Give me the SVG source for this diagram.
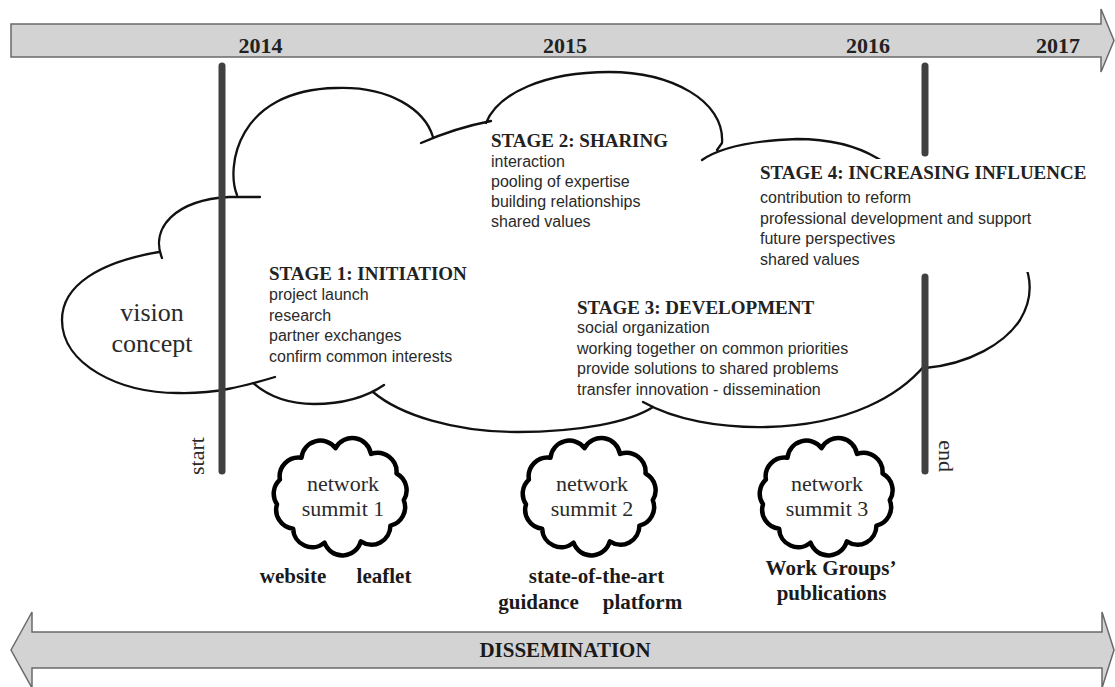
<svg xmlns="http://www.w3.org/2000/svg" width="1115" height="687" viewBox="0 0 1115 687">
<defs>
<style>
.arrow{fill:#d3d3d3;stroke:#6a6a6a;stroke-width:1.5;stroke-linejoin:miter}
.year{font-family:"Liberation Serif",serif;font-weight:bold;font-size:22px;fill:#222;text-anchor:middle}
.big{fill:none;stroke:#111;stroke-width:2.3;stroke-linecap:round;stroke-linejoin:round}
.bar{stroke:#404040;stroke-width:7;stroke-linecap:round}
.title{font-family:"Liberation Serif",serif;font-weight:bold;font-size:19px;fill:#222}
.body{font-family:"Liberation Sans",Arial,sans-serif;font-size:16px;fill:#2a2a2a}
.serif{font-family:"Liberation Serif",serif;fill:#2a2a2a;text-anchor:middle}
.label{font-family:"Liberation Serif",serif;font-weight:bold;font-size:21px;fill:#1a1a1a;text-anchor:middle}
.small-cloud{fill:#fff;stroke:#000;stroke-width:4.5;stroke-linejoin:round}
</style>
<path id="cloud" d="M-60.1,-16.4 A19,19 0 0 1 -38.5,-38.3 A19,19 0 0 1 -4.5,-47.9 A19,19 0 0 1 31,-42 A19,19 0 0 1 56.5,-22.5 A19,19 0 0 1 63.8,4.2 A19,19 0 0 1 50.4,29.6 A19,19 0 0 1 20.8,45.4 A19,19 0 0 1 -15.5,46.6 A19,19 0 0 1 -46.8,32.7 A19,19 0 0 1 -63,8.3 A19,19 0 0 1 -60.1,-16.4 Z"/>
</defs>
<rect width="1115" height="687" fill="#fff"/>

<g id="timeline">
<polygon class="arrow" points="11,24 1101,24 1101,9 1114,40.5 1101,72 1101,57 11,57"/>
<text class="year" x="260.5" y="52.5">2014</text>
<text class="year" x="565" y="52.5">2015</text>
<text class="year" x="868" y="52.5">2016</text>
<text class="year" x="1058" y="52.5">2017</text>
</g>

<g id="dissemination">
<polygon class="arrow" points="11,650 32,612 32,632 1102,632 1102,612 1114,650 1102,688 1102,668 32,668 32,688"/>
<text class="label" x="565" y="657" font-size="22.5">DISSEMINATION</text>
</g>

<g id="vision-cloud">
<path class="big" d="M162,258 C150,228 175,200 229,197 L260,197 M159,252 C100,262 62,285 62,320 C62,365 120,393 178,393 C215,394 245,386 275,377"/>
<text class="serif" x="152" y="321" font-size="26">vision</text>
<text class="serif" x="152" y="352" font-size="26">concept</text>
</g>

<g id="main-cloud">
<path class="big" d="M237,195 C226,168 236,90 336,88 C390,86 425,110 433,137 M421,143 Q455,128 491,121 M486,123 C498,93 545,72 609,72 C670,72 725,100 722,143 L717,150 M702,160 C715,151 740,141 797,139 C835,139 860,148 877,158 C940,195 1015,215 1024,262 C1032,280 1032,300 1020,320 C1005,343 970,364 925,368 M925,365 C900,395 850,425 767,427 C720,428 675,420 643,402 M653,407 C630,422 580,432 517,432 C455,432 400,415 373,392 M253,383 C270,398 290,404 314,404 C340,404 365,398 384,385"/>
<rect x="757" y="159" width="345" height="113" fill="#fff"/>
</g>

<g id="connectors">
<line class="bar" x1="222" y1="66" x2="222" y2="471"/>
<line class="bar" x1="925" y1="66" x2="925" y2="153"/>
<line class="bar" x1="925" y1="277" x2="925" y2="471"/>
<text class="serif" font-size="22" fill="#333" transform="translate(204,456) rotate(-90)">start</text>
<text class="serif" font-size="22" fill="#333" transform="translate(939,456) rotate(90)">end</text>
</g>

<g id="stage1">
<text class="title" x="269" y="280">STAGE 1: INITIATION</text>
<text class="body" x="269" y="300">project launch</text>
<text class="body" x="269" y="320.5">research</text>
<text class="body" x="269" y="341">partner exchanges</text>
<text class="body" x="269" y="361.5">confirm common interests</text>
</g>

<g id="stage2">
<text class="title" x="491" y="147">STAGE 2: SHARING</text>
<text class="body" x="491" y="167">interaction</text>
<text class="body" x="491" y="187">pooling of expertise</text>
<text class="body" x="491" y="207">building relationships</text>
<text class="body" x="491" y="227">shared values</text>
</g>

<g id="stage3">
<text class="title" x="577" y="314">STAGE 3: DEVELOPMENT</text>
<text class="body" x="577" y="333">social organization</text>
<text class="body" x="577" y="353.5">working together on common priorities</text>
<text class="body" x="577" y="374">provide solutions to shared problems</text>
<text class="body" x="577" y="394.5">transfer innovation - dissemination</text>
</g>

<g id="stage4">
<text class="title" x="760" y="179">STAGE 4: INCREASING INFLUENCE</text>
<text class="body" x="760" y="203">contribution to reform</text>
<text class="body" x="760" y="223.5">professional development and support</text>
<text class="body" x="760" y="244">future perspectives</text>
<text class="body" x="760" y="264.5">shared values</text>
</g>

<g id="summit1">
<use href="#cloud" class="small-cloud" transform="translate(340,496)"/>
<text class="serif" x="343" y="491" font-size="22">network</text>
<text class="serif" x="343" y="516" font-size="22">summit 1</text>
<text class="label" x="293" y="583">website</text>
<text class="label" x="384" y="583">leaflet</text>
</g>

<g id="summit2">
<use href="#cloud" class="small-cloud" transform="translate(589,496)"/>
<text class="serif" x="592" y="491" font-size="22">network</text>
<text class="serif" x="592" y="516" font-size="22">summit 2</text>
<text class="label" x="596.5" y="583">state-of-the-art</text>
<text class="label" x="538.5" y="609">guidance</text>
<text class="label" x="642.5" y="609">platform</text>
</g>

<g id="summit3">
<use href="#cloud" class="small-cloud" transform="translate(826,496)"/>
<text class="serif" x="827" y="491" font-size="22">network</text>
<text class="serif" x="827" y="516" font-size="22">summit 3</text>
<text class="label" x="831" y="575">Work Groups’</text>
<text class="label" x="831.5" y="600">publications</text>
</g>
</svg>
